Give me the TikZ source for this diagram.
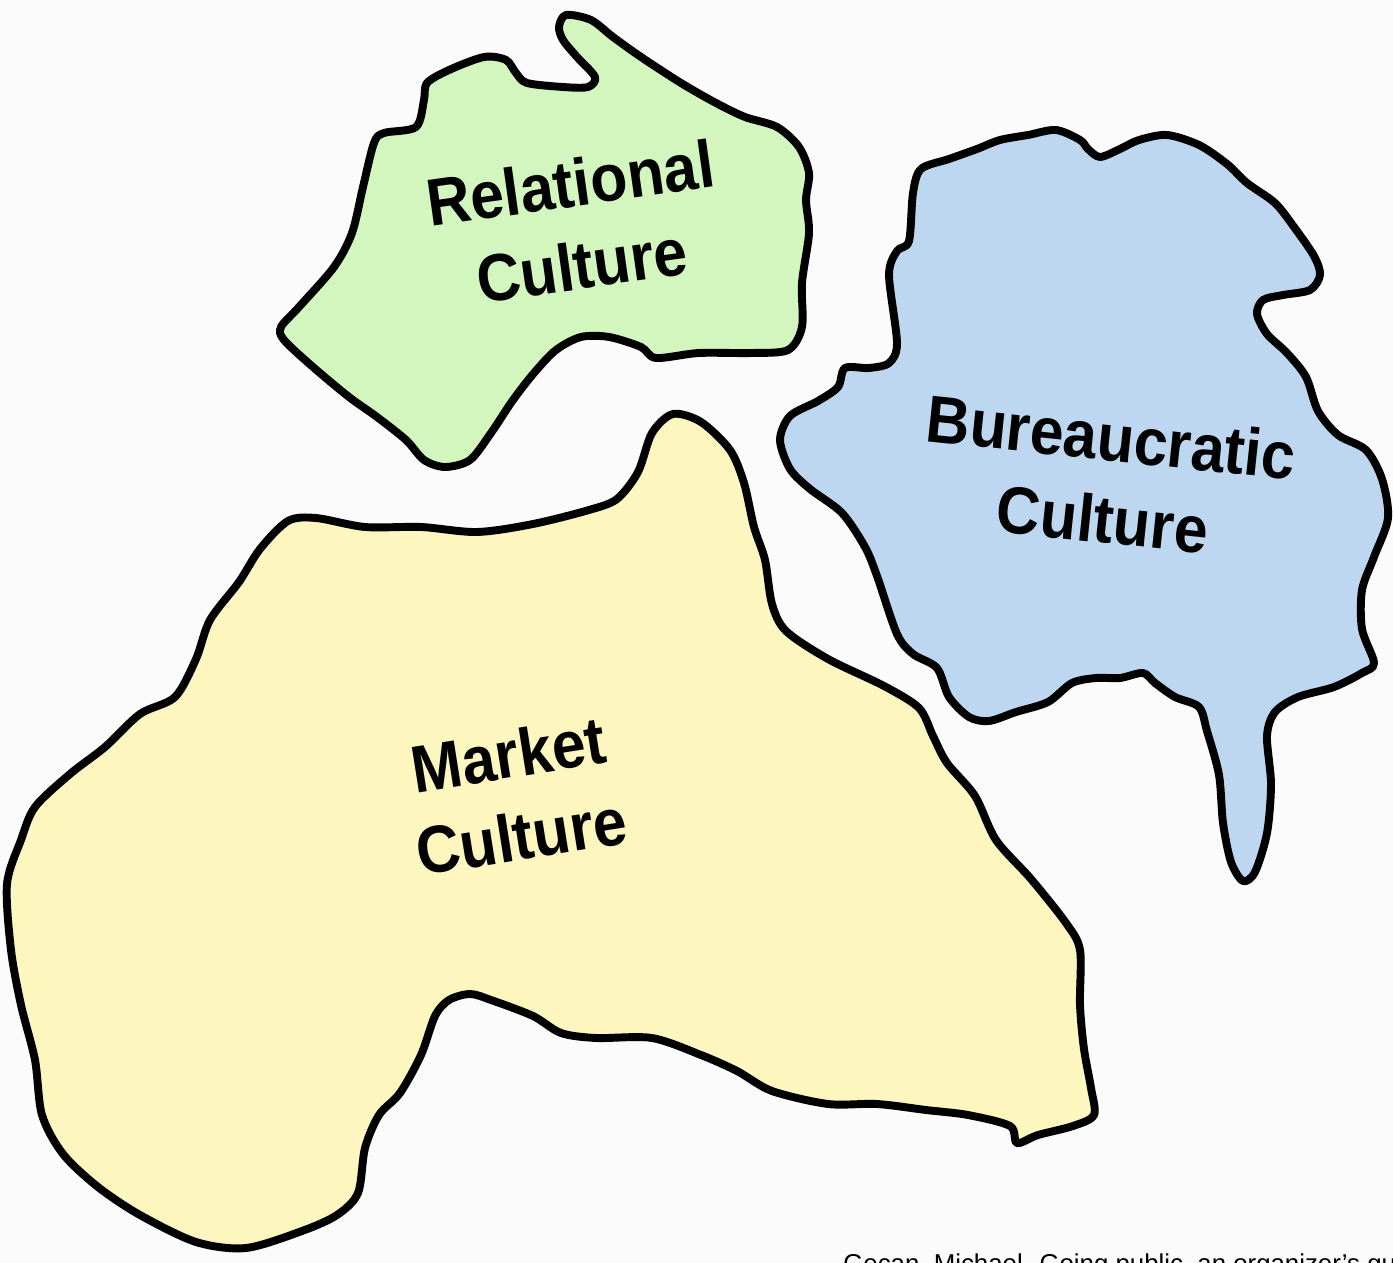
\documentclass[tikz,border=0pt]{standalone}
\usepackage{fontspec}
\setmainfont{Liberation Sans}
\usepackage{tikz}
\usetikzlibrary{positioning}

\definecolor{relfill}{RGB}{211,245,190}
\definecolor{burfill}{RGB}{190,215,241}
\definecolor{mktfill}{RGB}{253,246,190}
\definecolor{paper}{RGB}{251,251,251}
\newcommand{\tallword}[1]{\scalebox{1}[1.1]{#1}}

\begin{document}
\begin{tikzpicture}[x=0.02cm, y=-0.02cm,
  region/.style={draw=black, line width=4.5pt, line join=round, fill=#1},
  lbl/.style={font=\fontsize{34.5}{47}\selectfont\bfseries, align=center, inner sep=0pt},
  cite/.style={font=\fontsize{14.7}{16}\selectfont, anchor=base west, inner sep=0pt}]
  \useasboundingbox (0,0) rectangle (1393,1263);
  \fill[paper] (0,0) rectangle (1393,1263);
  \clip (0,0) rectangle (1393,1263);

  % relational
  \draw[region=relfill] plot[smooth cycle, tension=0.5] coordinates {
    (566,15) (591,20) (613,37) (641,57) (681,83) (716,103) (745,117) (777,127)
    (799,147) (809,173) (806,200) (809,233) (802,283) (802,327) (788,350)
    (752,353) (699,353) (656,358) (641,347) (609,337) (581,337) (556,350)
    (534,373) (513,400) (491,433) (470,460) (445,467) (424,460) (406,440)
    (377,417) (349,397) (313,367) (284,340) (281,327) (299,307) (334,267)
    (352,233) (363,187) (374,143) (384,133) (416,127) (424,100) (427,83)
    (449,70) (484,57) (506,60) (516,73) (527,83) (563,87) (588,87) (595,77)
    (577,57) (563,40) (559,27)};

  % bureaucratic
  \draw[region=burfill] plot[smooth cycle, tension=0.5] coordinates {
    (1088,149) (1100,157) (1120,149) (1139,140) (1167,135) (1199,145)
    (1227,164) (1247,183) (1275,203) (1294,227) (1314,256) (1320,275)
    (1310,290) (1283,295) (1263,300) (1257,314) (1267,334) (1287,353)
    (1306,377) (1318,411) (1338,435) (1366,450) (1382,479) (1388,518)
    (1374,557) (1362,590) (1362,629) (1374,663) (1362,673) (1334,687)
    (1298,697) (1275,712) (1267,736) (1271,784) (1267,833) (1255,872)
    (1243,881) (1231,862) (1223,823) (1219,775) (1207,731) (1199,707)
    (1175,697) (1155,683) (1143,673) (1120,678) (1096,678) (1072,683)
    (1048,702) (1016,712) (989,721) (969,717) (949,697) (937,668) (913,654)
    (897,634) (877,576) (865,547) (842,513) (810,489) (790,469) (780,440)
    (790,416) (818,401) (838,387) (845,368) (869,368) (889,363) (897,343)
    (889,275) (897,251) (909,241) (913,193) (921,169) (949,159) (977,149)
    (1000,140) (1028,135) (1056,130) (1080,140)};

  % market
  \draw[region=mktfill] plot[smooth cycle, tension=0.5] coordinates {
    (673,414) (701,422) (730,450) (744,483) (754,527) (765,560) (772,604)
    (786,631) (828,659) (884,686) (919,708) (933,736) (947,763) (975,796)
    (996,840) (1031,879) (1066,923) (1080,950) (1080,1005) (1084,1049)
    (1091,1088) (1094,1115) (1073,1126) (1038,1135) (1017,1143) (1010,1126)
    (968,1115) (926,1110) (877,1104) (828,1104) (772,1091) (737,1071)
    (701,1055) (652,1038) (596,1038) (561,1033) (533,1016) (491,1000)
    (470,994) (449,1000) (435,1016) (421,1055) (400,1093) (379,1115)
    (365,1148) (358,1193) (337,1215) (302,1231) (246,1248) (196,1242)
    (140,1215) (98,1187) (63,1154) (42,1115) (35,1060) (21,1005) (11,950)
    (7,884) (21,840) (35,807) (70,774) (105,747) (140,714) (175,697)
    (196,659) (210,620) (239,582) (260,549) (288,521) (316,518) (365,527)
    (421,527) (477,532) (533,524) (589,510) (617,499) (638,472) (652,433)};

  \node[lbl, rotate=8] (rel) at (576,224) {\tallword{Relational}\\\tallword{Culture}};
  \node[lbl, rotate=-6] (bur) at (1107,478) {\tallword{Bureaucratic}\\\tallword{Culture}};
  \node[lbl, rotate=9] (mkt) at (515,795) {\tallword{Market}\\\tallword{Culture}};

  \node[cite] (src) at (843,1272) {Gecan, Michael. Going public, an organizer's guide};
\end{tikzpicture}
\end{document}
